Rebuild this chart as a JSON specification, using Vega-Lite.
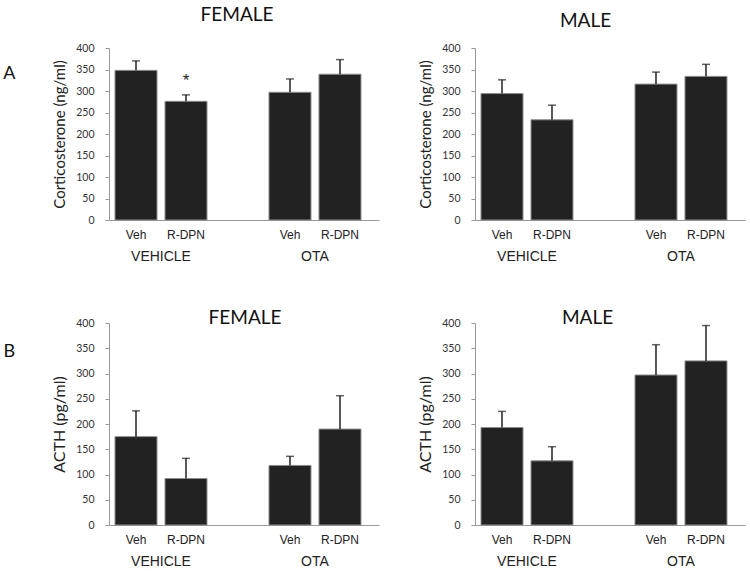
{
  "$schema": "https://vega.github.io/schema/vega-lite/v6.json",
  "background": "white",
  "padding": {"left": 3, "top": 5, "right": 5, "bottom": 2},
  "datasets": {
    "d": [
      {"hormone": "cort", "sex": "FEMALE", "group": "VEHICLE", "treatment": "Veh", "value": 348, "err": 370, "sig": ""},
      {"hormone": "cort", "sex": "FEMALE", "group": "VEHICLE", "treatment": "R-DPN", "value": 276, "err": 291, "sig": "*"},
      {"hormone": "cort", "sex": "FEMALE", "group": "OTA", "treatment": "Veh", "value": 297, "err": 328, "sig": ""},
      {"hormone": "cort", "sex": "FEMALE", "group": "OTA", "treatment": "R-DPN", "value": 339, "err": 373, "sig": ""},
      {"hormone": "cort", "sex": "MALE", "group": "VEHICLE", "treatment": "Veh", "value": 294, "err": 326, "sig": ""},
      {"hormone": "cort", "sex": "MALE", "group": "VEHICLE", "treatment": "R-DPN", "value": 233, "err": 267, "sig": ""},
      {"hormone": "cort", "sex": "MALE", "group": "OTA", "treatment": "Veh", "value": 316, "err": 344, "sig": ""},
      {"hormone": "cort", "sex": "MALE", "group": "OTA", "treatment": "R-DPN", "value": 334, "err": 362, "sig": ""},
      {"hormone": "acth", "sex": "FEMALE", "group": "VEHICLE", "treatment": "Veh", "value": 175, "err": 226, "sig": ""},
      {"hormone": "acth", "sex": "FEMALE", "group": "VEHICLE", "treatment": "R-DPN", "value": 92, "err": 132, "sig": ""},
      {"hormone": "acth", "sex": "FEMALE", "group": "OTA", "treatment": "Veh", "value": 118, "err": 136, "sig": ""},
      {"hormone": "acth", "sex": "FEMALE", "group": "OTA", "treatment": "R-DPN", "value": 190, "err": 256, "sig": ""},
      {"hormone": "acth", "sex": "MALE", "group": "VEHICLE", "treatment": "Veh", "value": 193, "err": 225, "sig": ""},
      {"hormone": "acth", "sex": "MALE", "group": "VEHICLE", "treatment": "R-DPN", "value": 127, "err": 155, "sig": ""},
      {"hormone": "acth", "sex": "MALE", "group": "OTA", "treatment": "Veh", "value": 297, "err": 357, "sig": ""},
      {"hormone": "acth", "sex": "MALE", "group": "OTA", "treatment": "R-DPN", "value": 325, "err": 395, "sig": ""}
    ]
  },
  "vconcat": [
    {
      "title": {"text": "A", "orient": "left", "angle": 0, "anchor": "end", "fontSize": 18, "font": "Lato", "fontWeight": "normal", "color": "#111", "offset": 25, "dy": 17},
      "bounds": "flush",
      "spacing": 96,
      "hconcat": [
        {
          "width": 270, "height": 172,
          "title": {"text": "FEMALE", "offset": 12, "dx": -7},
          "data": {"name": "d"},
          "transform": [{"filter": "datum.hormone == 'cort' && datum.sex == 'FEMALE'"}],
          "encoding": {
            "x": {"field": "group", "type": "nominal", "sort": ["VEHICLE", "OTA"], "title": null, "scale": {"paddingInner": 0.4026, "paddingOuter": 0.078, "align": 0.25}},
            "xOffset": {"field": "treatment", "type": "nominal", "sort": ["Veh", "R-DPN"], "scale": {"paddingInner": 0.16, "paddingOuter": 0}}
          },
          "layer": [
            {"mark": {"type": "bar", "fill": "#222222", "stroke": "#8c8c8c", "strokeWidth": 1}, "encoding": {"y": {"field": "value", "type": "quantitative", "scale": {"domain": [0, 400]}, "axis": {"title": "Corticosterone (ng/ml)", "values": [0, 50, 100, 150, 200, 250, 300, 350, 400], "labelOverlap": false}}}},
            {"mark": {"type": "rule", "color": "#222222", "strokeWidth": 1.5}, "encoding": {"y": {"field": "value", "type": "quantitative", "scale": {"domain": [0, 400]}, "axis": {"title": "Corticosterone (ng/ml)", "values": [0, 50, 100, 150, 200, 250, 300, 350, 400], "labelOverlap": false}}, "y2": {"field": "err"}}},
            {"mark": {"type": "tick", "color": "#222222", "thickness": 1.5, "size": 8, "orient": "horizontal"}, "encoding": {"y": {"field": "err", "type": "quantitative", "scale": {"domain": [0, 400]}, "axis": {"title": "Corticosterone (ng/ml)", "values": [0, 50, 100, 150, 200, 250, 300, 350, 400], "labelOverlap": false}}}},
            {"mark": {"type": "text", "dy": -5, "fontSize": 17, "font": "Liberation Sans", "color": "#222222", "baseline": "bottom"}, "encoding": {"y": {"field": "err", "type": "quantitative", "scale": {"domain": [0, 400]}, "axis": {"title": "Corticosterone (ng/ml)", "values": [0, 50, 100, 150, 200, 250, 300, 350, 400], "labelOverlap": false}}, "text": {"field": "sig"}}},
            {"mark": {"type": "text", "dy": 19, "fontSize": 12, "font": "Liberation Sans", "color": "#222222", "baseline": "alphabetic"}, "encoding": {"y": {"datum": 0, "type": "quantitative", "scale": {"domain": [0, 400]}, "axis": {"title": "Corticosterone (ng/ml)", "values": [0, 50, 100, 150, 200, 250, 300, 350, 400], "labelOverlap": false}}, "text": {"field": "treatment"}}}
          ]
        },
        {
          "width": 270, "height": 172,
          "title": {"text": "MALE", "offset": 12, "dx": -24.5},
          "data": {"name": "d"},
          "transform": [{"filter": "datum.hormone == 'cort' && datum.sex == 'MALE'"}],
          "encoding": {
            "x": {"field": "group", "type": "nominal", "sort": ["VEHICLE", "OTA"], "title": null, "scale": {"paddingInner": 0.4026, "paddingOuter": 0.078, "align": 0.25}},
            "xOffset": {"field": "treatment", "type": "nominal", "sort": ["Veh", "R-DPN"], "scale": {"paddingInner": 0.16, "paddingOuter": 0}}
          },
          "layer": [
            {"mark": {"type": "bar", "fill": "#222222", "stroke": "#8c8c8c", "strokeWidth": 1}, "encoding": {"y": {"field": "value", "type": "quantitative", "scale": {"domain": [0, 400]}, "axis": {"title": "Corticosterone (ng/ml)", "values": [0, 50, 100, 150, 200, 250, 300, 350, 400], "labelOverlap": false}}}},
            {"mark": {"type": "rule", "color": "#222222", "strokeWidth": 1.5}, "encoding": {"y": {"field": "value", "type": "quantitative", "scale": {"domain": [0, 400]}, "axis": {"title": "Corticosterone (ng/ml)", "values": [0, 50, 100, 150, 200, 250, 300, 350, 400], "labelOverlap": false}}, "y2": {"field": "err"}}},
            {"mark": {"type": "tick", "color": "#222222", "thickness": 1.5, "size": 8, "orient": "horizontal"}, "encoding": {"y": {"field": "err", "type": "quantitative", "scale": {"domain": [0, 400]}, "axis": {"title": "Corticosterone (ng/ml)", "values": [0, 50, 100, 150, 200, 250, 300, 350, 400], "labelOverlap": false}}}},
            {"mark": {"type": "text", "dy": 19, "fontSize": 12, "font": "Liberation Sans", "color": "#222222", "baseline": "alphabetic"}, "encoding": {"y": {"datum": 0, "type": "quantitative", "scale": {"domain": [0, 400]}, "axis": {"title": "Corticosterone (ng/ml)", "values": [0, 50, 100, 150, 200, 250, 300, 350, 400], "labelOverlap": false}}, "text": {"field": "treatment"}}}
          ]
        }
      ]
    },
    {
      "title": {"text": "B", "orient": "left", "angle": 0, "anchor": "end", "fontSize": 18, "font": "Lato", "fontWeight": "normal", "color": "#111", "offset": 25, "dy": 20},
      "bounds": "flush",
      "spacing": 96,
      "hconcat": [
        {
          "width": 270, "height": 202,
          "title": {"text": "FEMALE", "offset": -10, "dx": 1},
          "data": {"name": "d"},
          "transform": [{"filter": "datum.hormone == 'acth' && datum.sex == 'FEMALE'"}],
          "encoding": {
            "x": {"field": "group", "type": "nominal", "sort": ["VEHICLE", "OTA"], "title": null, "scale": {"paddingInner": 0.4026, "paddingOuter": 0.078, "align": 0.25}},
            "xOffset": {"field": "treatment", "type": "nominal", "sort": ["Veh", "R-DPN"], "scale": {"paddingInner": 0.16, "paddingOuter": 0}}
          },
          "layer": [
            {"mark": {"type": "bar", "fill": "#222222", "stroke": "#8c8c8c", "strokeWidth": 1}, "encoding": {"y": {"field": "value", "type": "quantitative", "scale": {"domain": [0, 400]}, "axis": {"title": "ACTH (pg/ml)", "titleFontSize": 16, "values": [0, 50, 100, 150, 200, 250, 300, 350, 400], "labelOverlap": false}}}},
            {"mark": {"type": "rule", "color": "#222222", "strokeWidth": 1.5}, "encoding": {"y": {"field": "value", "type": "quantitative", "scale": {"domain": [0, 400]}, "axis": {"title": "ACTH (pg/ml)", "titleFontSize": 16, "values": [0, 50, 100, 150, 200, 250, 300, 350, 400], "labelOverlap": false}}, "y2": {"field": "err"}}},
            {"mark": {"type": "tick", "color": "#222222", "thickness": 1.5, "size": 8, "orient": "horizontal"}, "encoding": {"y": {"field": "err", "type": "quantitative", "scale": {"domain": [0, 400]}, "axis": {"title": "ACTH (pg/ml)", "titleFontSize": 16, "values": [0, 50, 100, 150, 200, 250, 300, 350, 400], "labelOverlap": false}}}},
            {"mark": {"type": "text", "dy": 19, "fontSize": 12, "font": "Liberation Sans", "color": "#222222", "baseline": "alphabetic"}, "encoding": {"y": {"datum": 0, "type": "quantitative", "scale": {"domain": [0, 400]}, "axis": {"title": "ACTH (pg/ml)", "titleFontSize": 16, "values": [0, 50, 100, 150, 200, 250, 300, 350, 400], "labelOverlap": false}}, "text": {"field": "treatment"}}}
          ]
        },
        {
          "width": 270, "height": 202,
          "title": {"text": "MALE", "offset": -10, "dx": -22.5},
          "data": {"name": "d"},
          "transform": [{"filter": "datum.hormone == 'acth' && datum.sex == 'MALE'"}],
          "encoding": {
            "x": {"field": "group", "type": "nominal", "sort": ["VEHICLE", "OTA"], "title": null, "scale": {"paddingInner": 0.4026, "paddingOuter": 0.078, "align": 0.25}},
            "xOffset": {"field": "treatment", "type": "nominal", "sort": ["Veh", "R-DPN"], "scale": {"paddingInner": 0.16, "paddingOuter": 0}}
          },
          "layer": [
            {"mark": {"type": "bar", "fill": "#222222", "stroke": "#8c8c8c", "strokeWidth": 1}, "encoding": {"y": {"field": "value", "type": "quantitative", "scale": {"domain": [0, 400]}, "axis": {"title": "ACTH (pg/ml)", "titleFontSize": 16, "values": [0, 50, 100, 150, 200, 250, 300, 350, 400], "labelOverlap": false}}}},
            {"mark": {"type": "rule", "color": "#222222", "strokeWidth": 1.5}, "encoding": {"y": {"field": "value", "type": "quantitative", "scale": {"domain": [0, 400]}, "axis": {"title": "ACTH (pg/ml)", "titleFontSize": 16, "values": [0, 50, 100, 150, 200, 250, 300, 350, 400], "labelOverlap": false}}, "y2": {"field": "err"}}},
            {"mark": {"type": "tick", "color": "#222222", "thickness": 1.5, "size": 8, "orient": "horizontal"}, "encoding": {"y": {"field": "err", "type": "quantitative", "scale": {"domain": [0, 400]}, "axis": {"title": "ACTH (pg/ml)", "titleFontSize": 16, "values": [0, 50, 100, 150, 200, 250, 300, 350, 400], "labelOverlap": false}}}},
            {"mark": {"type": "text", "dy": 19, "fontSize": 12, "font": "Liberation Sans", "color": "#222222", "baseline": "alphabetic"}, "encoding": {"y": {"datum": 0, "type": "quantitative", "scale": {"domain": [0, 400]}, "axis": {"title": "ACTH (pg/ml)", "titleFontSize": 16, "values": [0, 50, 100, 150, 200, 250, 300, 350, 400], "labelOverlap": false}}, "text": {"field": "treatment"}}}
          ]
        }
      ]
    }
  ],
  "spacing": 46,
  "config": {
    "view": {"stroke": null},
    "title": {"fontSize": 19, "font": "Lato", "fontWeight": "normal", "color": "#111111", "baseline": "alphabetic", "anchor": "middle", "frame": "group"},
    "axis": {"domainColor": "#999999", "tickColor": "#999999", "labelColor": "#333333", "grid": false},
    "axisY": {"labelOverlap": false, "tickSize": 4, "labelPadding": 11, "labelFont": "Lato", "labelFontSize": 10.5, "titleFont": "Lato", "titleFontSize": 15, "titleFontWeight": "normal", "titleColor": "#222222", "titlePadding": 8},
    "axisX": {"ticks": false, "tickSize": 0, "labelAngle": 0, "labelPadding": 40, "labelBaseline": "alphabetic", "labelFont": "Liberation Sans", "labelFontSize": 14, "labelColor": "#222222"}
  }
}
